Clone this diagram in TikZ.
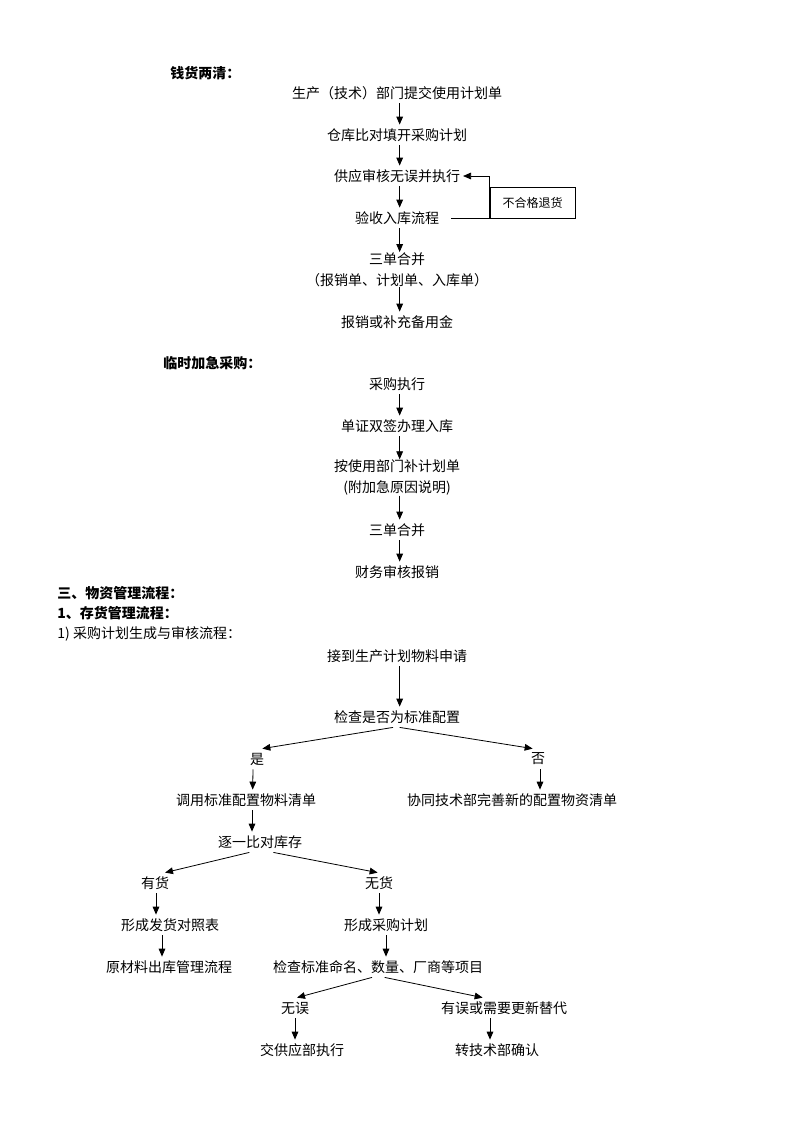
\documentclass[tikz,border=0pt]{standalone}
\usepackage{fontspec}
\setmainfont{Noto Sans CJK SC}
\usetikzlibrary{arrows.meta}

\begin{document}
\begin{tikzpicture}[x=0.75pt,y=-0.75pt,->,>={Triangle[length=6pt,width=5pt]},line width=0.6pt]
  \tikzstyle{entry}=[inner sep=0pt,minimum height=15pt,align=center,font=\fontsize{10.5}{15.75}\selectfont]
  \tikzstyle{heading}=[anchor=west,inner sep=0pt,font=\fontsize{10.5}{15.75}\selectfont\bfseries]
  \tikzstyle{note}=[draw,inner sep=0pt,minimum width=63.75pt,minimum height=23.25pt,font=\fontsize{9}{11}\selectfont]
  \useasboundingbox (0,0) rectangle (793,1122);

  \node[heading] (Q_0) at (170,73) {钱货两清：};
  \node[entry] (Q_1) at (397,93)    {生产（技术）部门提交使用计划单};
  \node[entry] (Q_2) at (397,135)   {仓库比对填开采购计划};
  \node[entry] (Q_3) at (397,176)   {供应审核无误并执行};
  \node[entry] (Q_4) at (397,218)   {验收入库流程};
  \node[entry] (Q_5) at (397,269.5) {三单合并\\（报销单、计划单、入库单）};
  \node[entry] (Q_6) at (397,322)   {报销或补充备用金};
  \node[note]  (R)   at (532.5,202.5) {不合格退货};

  \draw ([xshift=2pt]Q_1.south) -- ([xshift=2pt]Q_2.north);
  \draw ([xshift=2pt]Q_2.south) -- ([xshift=2pt]Q_3.north);
  \draw ([xshift=2pt]Q_3.south) -- ([xshift=2pt]Q_4.north);
  \draw ([xshift=2pt]Q_4.south) -- ([xshift=2pt]Q_5.north);
  \draw ([xshift=2pt]Q_5.south) -- ([xshift=2pt]Q_6.north);
  \draw ([xshift=9pt]Q_4.east) -- (Q_4 -| R.west) -- (R.west |- Q_3) -- ([xshift=2pt]Q_3.east);

  \node[heading] (L_0) at (163,363) {临时加急采购：};
  \node[entry] (L_1) at (397,384)   {采购执行};
  \node[entry] (L_2) at (397,426)   {单证双签办理入库};
  \node[entry] (L_3) at (397,477.5) {按使用部门补计划单\\(附加急原因说明)};
  \node[entry] (L_4) at (397,530)   {三单合并};
  \node[entry] (L_5) at (397,572)   {财务审核报销};

  \draw ([xshift=2pt]L_1.south) -- ([xshift=2pt]L_2.north);
  \draw ([xshift=2pt]L_2.south) -- ([xshift=2pt]L_3.north);
  \draw ([xshift=2pt]L_3.south) -- ([xshift=2pt]L_4.north);
  \draw ([xshift=2pt]L_4.south) -- ([xshift=2pt]L_5.north);

  \node[heading] (W_0) at (57,593) {三、物资管理流程：};
  \node[heading] (W_1) at (57,613) {1、存货管理流程：};
  \node[heading,font=\fontsize{10.5}{15.75}\selectfont] (W_2) at (57,634) {1)\ 采购计划生成与审核流程：};

  \node[entry] (P_1)  at (397,656)  {接到生产计划物料申请};
  \node[entry] (P_2)  at (397,717)  {检查是否为标准配置};
  \node[entry] (P_3)  at (257,759)  {是};
  \node[entry] (P_4)  at (538,759)  {否};
  \node[entry] (P_5)  at (246,800)  {调用标准配置物料清单};
  \node[entry] (P_6)  at (512,800)  {协同技术部完善新的配置物资清单};
  \node[entry] (P_7)  at (260,842)  {逐一比对库存};
  \node[entry] (P_8)  at (155,883)  {有货};
  \node[entry] (P_9)  at (379,883)  {无货};
  \node[entry] (P_10) at (170,925)  {形成发货对照表};
  \node[entry] (P_11) at (169,967)  {原材料出库管理流程};
  \node[entry] (P_12) at (386,925)  {形成采购计划};
  \node[entry] (P_13) at (378,967)  {检查标准命名、数量、厂商等项目};
  \node[entry] (P_14) at (295,1008) {无误};
  \node[entry] (P_15) at (504,1008) {有误或需要更新替代};
  \node[entry] (P_16) at (302,1050) {交供应部执行};
  \node[entry] (P_17) at (497,1050) {转技术部确认};

  \draw ([xshift=2pt]P_1.south) -- ([xshift=2pt]P_2.north);
  \draw ([xshift=-3pt]P_2.south) -- ([xshift=4pt]P_3.north);
  \draw ([xshift=2pt]P_2.south) -- ([xshift=-4pt]P_4.north);
  \draw ([xshift=-3pt]P_3.south) -- ([xshift=5pt]P_5.north);
  \draw ([xshift=1.5pt]P_4.south) -- ([xshift=21pt]P_6.north);
  \draw ([xshift=4.5pt]P_5.south) -- ([xshift=-6pt]P_7.north);
  \draw ([xshift=-8pt]P_7.south) -- ([xshift=7.5pt]P_8.north);
  \draw ([xshift=10pt]P_7.south) -- ([xshift=-1pt]P_9.north);
  \draw ([xshift=0.75pt]P_8.south) -- ([xshift=-10.5pt]P_10.north);
  \draw ([xshift=-6pt]P_10.south) -- ([xshift=-5.25pt]P_11.north);
  \draw (P_9.south) -- ([xshift=-5.25pt]P_12.north);
  \draw (P_12.south) -- ([xshift=6pt]P_13.north);
  \draw ([xshift=-4.5pt]P_13.south) -- ([xshift=1.5pt]P_14.north);
  \draw ([xshift=5pt]P_13.south) -- ([xshift=-16pt]P_15.north);
  \draw (P_14.south) -- ([xshift=-5.25pt]P_16.north);
  \draw ([xshift=-10.5pt]P_15.south) -- ([xshift=-5.25pt]P_17.north);
\end{tikzpicture}
\end{document}
